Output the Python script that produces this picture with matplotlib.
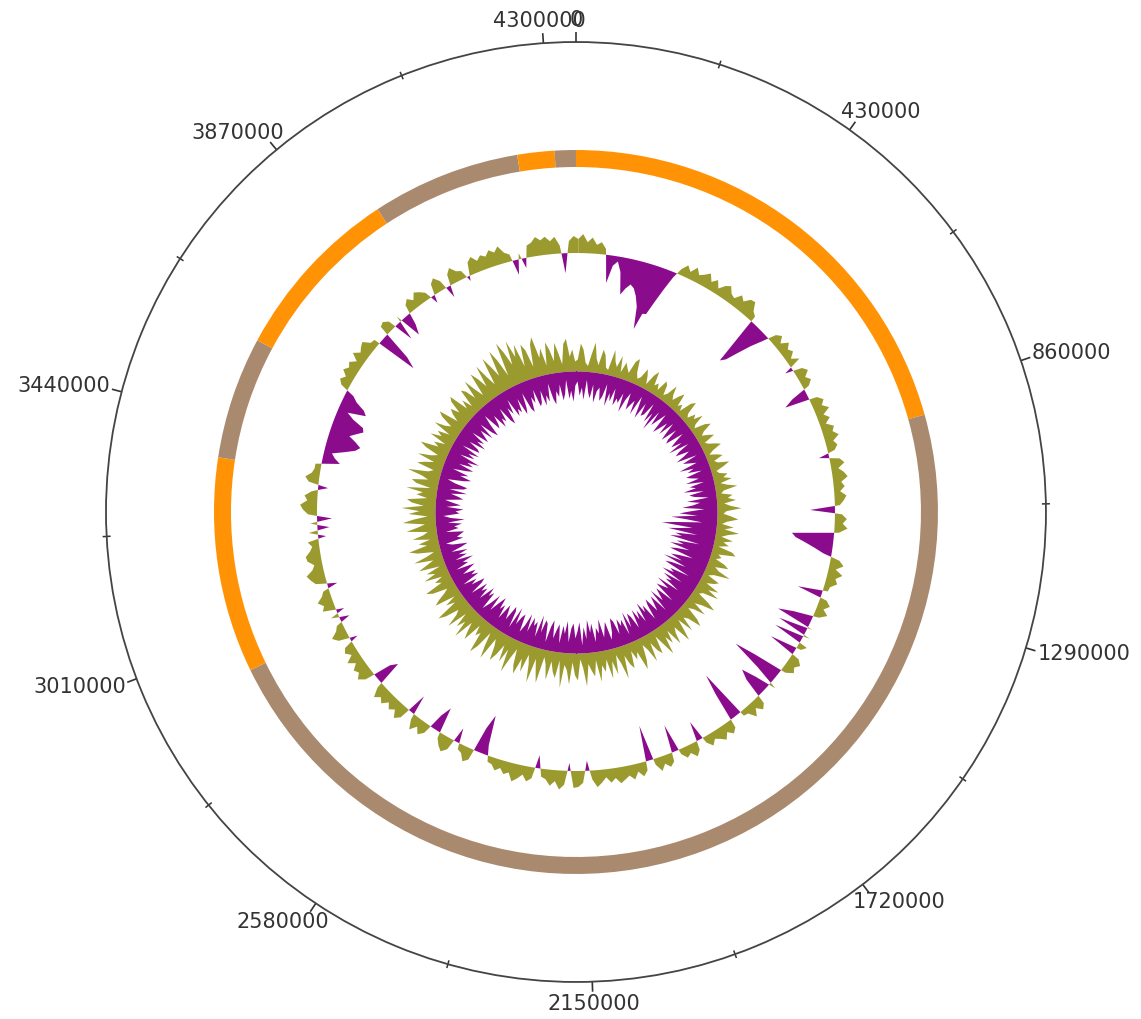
import numpy as np
import matplotlib
matplotlib.use("Agg")
import matplotlib.pyplot as plt

genome_len = 4348000

# position ruler
tick_pos = [0, 430000, 860000, 1290000, 1720000, 2150000, 2580000,
            3010000, 3440000, 3870000, 4300000]
minor_tick_pos = [215000, 645000, 1075000, 1505000, 1935000, 2365000,
                  2795000, 3225000, 3655000, 4085000]

# replichore / strand blocks on the outer ring
block_start = [0, 898600, 2948000, 3366000, 3603000, 3946500, 4235000, 4307000]
block_end = [898600, 2948000, 3366000, 3603000, 3946500, 4235000, 4307000, 4348000]
block_strand = ["+", "-", "+", "-", "+", "-", "+", "-"]

# GC content deviation, one value per window (360 windows)
gc_content = [
    14, 19, 11, 16, 9, 12, 6, -28, -10, -5,
    -15, -37, -30, -25, -28, -35, -45, -67, -50, -49,
    -35, -20, -5, 6, 12, 7, 14, 8, 11, 15,
    8, 13, 6, 12, 15, 9, 7, 14, 10, 16,
    17, 9, 6, -50, -45, -32, -18, -6, 8, 12,
    6, 13, 8, 11, 5, 12, -8, 9, 13, 7,
    11, 6, -15, -25, 8, 13, 9, 15, 7, 12,
    6, 13, 10, 15, 8, 11, 7, -10, 10, 14,
    7, 12, 15, 8, 11, 6, 12, 9, 5, -25,
    7, 12, 8, 13, 5, -42, -38, -28, -18, -8,
    9, 14, 7, 15, 9, 12, 6, 5, -25, 7,
    12, 7, 13, 6, -20, -35, 5, -30, 7, -30,
    9, 5, -28, 8, 13, 9, 12, 5, -30, -52,
    -20, 7, -15, -30, -20, 9, 13, 7, 14, 6,
    5, -50, -30, 9, 13, 8, 14, 10, 7, 12,
    6, -20, 9, 14, 8, 11, 5, -28, 9, 13,
    8, 14, 6, -36, 9, 14, 8, 15, 10, 13,
    16, 10, 14, 8, 13, 17, 9, -10, 12, 16,
    17, -8, 14, 19, 11, 16, 10, 8, -13, 11,
    15, 9, 14, 18, 10, 13, 8, 12, 7, 6,
    -10, -40, -25, 11, 15, 8, 6, -15, 11, 16,
    12, 6, -26, -15, 9, 14, 8, 15, 6, -20,
    11, 16, 9, 13, 8, 14, 10, 15, 6, -25,
    -18, 10, 16, 11, 14, 8, 15, 7, 12, 9,
    -8, 11, 16, 9, 6, -10, 8, -8, 13, 10,
    15, 9, 6, -10, 11, 15, 18, 11, 8, 14,
    15, 10, 7, 11, -8, 9, -12, 7, -15, 9,
    14, 17, 10, 13, 6, -10, 10, 14, 8, 6,
    6, -18, -12, -8, -20, -30, -34, -28, -20, -26,
    -32, -30, -18, -10, -28, -24, -14, -8, 8, 12,
    8, 14, 10, 13, 7, 15, 9, 12, 14, 7,
    6, -42, -30, 10, 12, 8, -20, 6, -22, -12,
    9, 13, 8, 14, 11, 7, -8, 11, 15, 9,
    -12, 11, 16, 10, 8, -5, 13, 17, 11, 15,
    12, 17, 13, 18, 10, 7, -15, 6, -10, 12,
    14, 19, 15, 18, 13, 17, 8, -20, 12, 17,
]

# GC skew per window: upper (positive) and lower (negative) envelopes
skew_pos = [
    12, 28, 22, 9, 6, 18, 30, 14, 8, 24,
    19, 7, 5, 26, 15, 10, 22, 6, 17, 12,
    8, 21, 25, 11, 6, 9, 19, 13, 5, 16,
    22, 8, 12, 6, 18, 15, 5, 9, 20, 11,
    7, 14, 19, 6, 10, 4, 17, 21, 8, 5,
    13, 9, 18, 7, 4, 15, 20, 10, 6, 12,
    17, 5, 8, 14, 19, 9, 4, 11, 16, 6,
    9, 20, 13, 5, 7, 15, 10, 18, 6, 12,
    22, 8, 5, 16, 11, 19, 7, 13, 24, 9,
    6, 14, 21, 10, 5, 17, 8, 23, 12, 6,
    18, 9, 15, 5, 20, 24, 7, 11, 6, 16,
    21, 8, 13, 26, 10, 5, 18, 14, 7, 22,
    12, 25, 9, 6, 19, 28, 15, 8, 23, 11,
    6, 20, 27, 13, 9, 24, 7, 18, 29, 10,
    15, 26, 8, 21, 12, 30, 17, 6, 24, 19,
    9, 28, 14, 7, 22, 31, 11, 18, 8, 25,
    20, 10, 33, 16, 7, 26, 12, 29, 9, 21,
    14, 30, 8, 24, 18, 11, 33, 15, 6, 27,
    22, 9, 31, 17, 12, 35, 8, 26, 20, 10,
    29, 14, 7, 34, 22, 11, 36, 18, 9, 28,
    15, 32, 24, 8, 19, 35, 12, 27, 10, 22,
    30, 16, 9, 33, 21, 7, 25, 34, 13, 18,
    8, 28, 20, 11, 32, 15, 24, 9, 30, 17,
    12, 26, 33, 10, 19, 7, 28, 22, 14, 9,
    24, 30, 11, 17, 8, 26, 13, 21, 6, 27,
    18, 10, 29, 15, 7, 23, 31, 12, 20, 8,
    25, 14, 9, 30, 19, 11, 33, 22, 8, 27,
    16, 34, 12, 24, 29, 9, 20, 14, 31, 7,
    22, 27, 11, 18, 33, 13, 8, 26, 19, 10,
    28, 15, 9, 23, 30, 12, 18, 7, 25, 14,
    20, 8, 27, 16, 11, 24, 29, 9, 17, 22,
    13, 26, 30, 10, 19, 8, 27, 23, 12, 31,
    18, 9, 33, 25, 14, 36, 21, 11, 39, 28,
    16, 42, 30, 12, 46, 35, 20, 44, 26, 38,
    14, 36, 29, 11, 33, 40, 18, 27, 9, 32,
    24, 12, 30, 19, 8, 28, 33, 15, 22, 10,
]
skew_neg = [
    10, 24, 16, 28, 8, 20, 26, 12, 30, 18,
    14, 27, 22, 9, 31, 17, 25, 11, 28, 20,
    24, 13, 32, 18, 10, 27, 21, 15, 29, 8,
    19, 30, 12, 25, 22, 8, 28, 16, 34, 11,
    26, 18, 9, 30, 23, 14, 27, 10, 21, 29,
    12, 24, 28, 9, 19, 26, 15, 31, 10, 22,
    27, 13, 20, 29, 8, 24, 18, 11, 30, 16,
    23, 9, 26, 21, 14, 28, 10, 25, 19, 32,
    12, 27, 22, 8, 30, 17, 24, 35, 13, 28,
    38, 20, 46, 31, 15, 42, 55, 24, 36, 48,
    18, 40, 33, 45, 14, 37, 29, 43, 22, 35,
    41, 16, 30, 38, 25, 44, 19, 34, 40, 12,
    32, 27, 39, 15, 35, 24, 30, 13, 37, 22,
    28, 34, 11, 31, 25, 18, 33, 9, 29, 22,
    14, 30, 24, 9, 27, 20, 32, 12, 26, 17,
    29, 10, 23, 28, 14, 31, 8, 25, 19, 27,
    12, 26, 30, 16, 9, 28, 21, 13, 32, 18,
    24, 10, 29, 20, 33, 14, 26, 8, 31, 22,
    15, 30, 25, 11, 32, 19, 27, 9, 28, 22,
    13, 31, 24, 8, 26, 29, 16, 33, 10, 25,
    20, 28, 12, 30, 17, 9, 27, 23, 14, 31,
    8, 25, 29, 13, 21, 27, 10, 24, 18, 30,
    22, 11, 28, 16, 7, 26, 20, 29, 12, 24,
    18, 27, 9, 23, 28, 14, 21, 7, 26, 19,
    25, 12, 20, 27, 8, 22, 17, 29, 11, 24,
    16, 26, 10, 21, 28, 13, 7, 25, 19, 23,
    27, 9, 22, 18, 26, 12, 29, 15, 8, 24,
    20, 28, 11, 25, 17, 9, 27, 22, 14, 30,
    12, 26, 29, 16, 8, 24, 31, 19, 27, 10,
    23, 30, 14, 28, 21, 33, 11, 26, 18, 29,
    9, 27, 24, 13, 30, 19, 26, 10, 28, 22,
    15, 29, 11, 25, 31, 18, 8, 27, 23, 14,
    30, 21, 26, 12, 28, 33, 16, 24, 9, 29,
    22, 27, 13, 31, 25, 10, 28, 32, 17, 24,
    11, 29, 26, 14, 30, 20, 27, 9, 25, 31,
    18, 24, 12, 28, 22, 8, 27, 19, 30, 14,
]

ORANGE = "#ff9305"
BROWN = "#a98a6e"
OLIVE = "#9b9a2e"
PURPLE = "#8b0b8d"
TEXT = "#333333"

R_MAX = 470
BLOCK_R, BLOCK_W = 345, 17
GC_R = 259
SKEW_R = 141


def to_theta(pos):
    return np.asarray(pos, dtype=float) / genome_len * 2 * np.pi


def window_theta(n):
    win = genome_len / n
    th = to_theta(np.arange(n) * win + win / 2)
    return np.append(th, th[0] + 2 * np.pi)


def closed(vals):
    v = np.asarray(vals, dtype=float)
    return np.append(v, v[0])


fig = plt.figure(figsize=(11.41, 10.19), dpi=100)
ax = fig.add_axes([0.0929, 0.0363, 0.8238, 0.9225], projection="polar")
ax.set_theta_zero_location("N")
ax.set_theta_direction(-1)
ax.set_ylim(0, R_MAX)

# outer ring: strand blocks
for s, e, st in zip(block_start, block_end, block_strand):
    ax.bar(to_theta(s), BLOCK_W, width=to_theta(e - s), bottom=BLOCK_R,
           align="edge", color=ORANGE if st == "+" else BROWN, linewidth=0)

# middle ring: GC content
th = window_theta(len(gc_content))
gc = closed(gc_content)
ax.fill_between(th, GC_R, GC_R + gc, where=gc >= 0, interpolate=True,
                color=OLIVE, linewidth=0)
ax.fill_between(th, GC_R, GC_R + gc, where=gc <= 0, interpolate=True,
                color=PURPLE, linewidth=0)

# inner ring: GC skew
th = window_theta(len(skew_pos))
ax.fill_between(th, SKEW_R, SKEW_R + closed(skew_pos), color=OLIVE, linewidth=0)
ax.fill_between(th, SKEW_R - closed(skew_neg), SKEW_R, color=PURPLE, linewidth=0)

# ruler: circle, tick marks and labels
ax.grid(False)
ax.set_yticks([])
ax.set_xticks([])
ax.spines["polar"].set_color("#444444")
ax.spines["polar"].set_linewidth(1.3)

for t in to_theta(tick_pos):
    ax.plot([t, t], [R_MAX, R_MAX + 10], color=TEXT, lw=1.2,
            solid_capstyle="butt", clip_on=False)
for t in to_theta(minor_tick_pos):
    ax.plot([t, t], [R_MAX - 4, R_MAX + 4], color=TEXT, lw=1.1,
            solid_capstyle="butt", clip_on=False)

renderer = fig.canvas.get_renderer()
for p in tick_pos:
    t = to_theta(p)
    lbl = ax.annotate(str(p), xy=(t, R_MAX + 14), xytext=(0, 0),
                      textcoords="offset points", ha="center", va="center",
                      fontsize=15, color=TEXT, annotation_clip=False)
    bb = lbl.get_window_extent(renderer)
    k = 72.0 / fig.dpi
    lbl.xyann = (bb.width / 2 * np.sin(t) * k, bb.height / 2 * np.cos(t) * k * 0.8)

fig.savefig("out.png", dpi=100, facecolor="white")
